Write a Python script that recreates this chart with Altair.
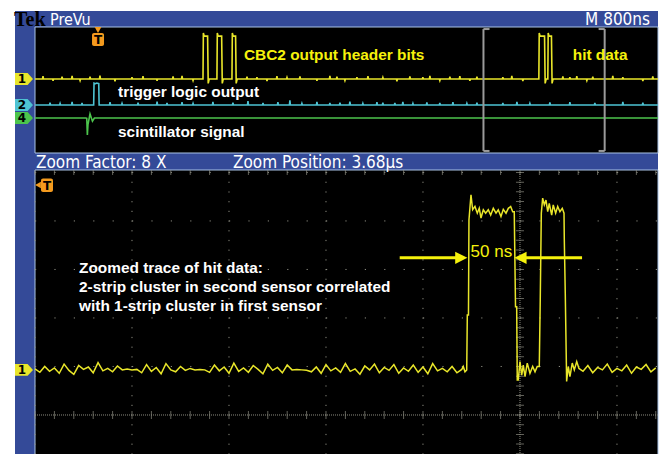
import altair as alt
import pandas as pd

# ---------------- texts ----------------
tek_label = "Tek"
mode_label = "PreVu"
timebase_label = "M 800ns"
zoom_factor_label = "Zoom Factor: 8 X"
zoom_position_label = "Zoom Position: 3.68\u00b5s"

# ---------------- acquisition settings ----------------
record_us = 8.0            # 10 div x 800 ns
zoom_factor = 8
zoom_position_us = 3.68

# ---------------- upper (PreVu) panel: time in us from trigger, level in div ----------------
ch1_base, ch1_high, ch1_peak, ch1_under = 0.70, 3.42, 3.62, 0.42
ch1_rise = [0.866, 0.981, 1.105, 3.637, 3.711]
ch1_fall = [0.907, 1.023, 1.138, 3.687, 3.744]
ch1_spike_t = [-0.454, -0.371, -0.297, -0.214, -0.148, -0.066, 0.016, 0.140, 0.280, 0.371,
               0.487, 0.619, 0.693, 0.784, 1.229, 1.311, 1.394, 1.476, 1.559, 1.666,
               1.806, 1.913, 1.971, 2.037, 2.136, 2.227, 2.350, 2.466, 2.573, 2.680,
               2.738, 2.820, 2.903, 2.985, 3.068, 3.126, 3.340, 3.414, 3.505, 3.835,
               3.893, 3.950, 4.033, 4.082, 4.247, 4.330, 4.495, 4.577]
ch1_spike_h = [0.18, -0.12, 0.15, 0.20, -0.10, 0.14, 0.22, -0.15, 0.12, 0.18,
               -0.12, 0.16, 0.20, -0.10, 0.15, 0.12, -0.14, 0.18, 0.10, 0.16,
               -0.12, 0.20, 0.14, -0.10, 0.12, 0.18, 0.10, -0.15, 0.16, 0.12,
               0.20, -0.10, 0.14, 0.18, -0.12, 0.15, 0.12, 0.20, -0.14, 0.16,
               0.12, 0.18, -0.10, 0.15, 0.20, 0.12, -0.14, 0.16]

ch2_base = -0.95
ch2_pulse_t = [-0.036, -0.033, -0.020, -0.010, 0.006, 0.009]
ch2_pulse_v = [-0.95, 0.44, 0.40, 0.44, 0.40, -0.95]
ch2_spike_t = [-0.396, -0.313, -0.214, -0.132, 0.099, 0.198, 0.330, 0.487, 0.569, 0.693,
               0.784, 0.948, 1.113, 1.237, 1.361, 1.484, 1.583, 1.682, 1.806, 1.913,
               1.996, 2.078, 2.185, 2.301, 2.350, 2.449, 2.515, 2.598, 2.713, 2.820,
               2.928, 3.043, 3.126, 3.340, 3.456, 3.563, 3.728, 3.893, 4.099, 4.330, 4.495]
ch2_spike_h = [0.15, 0.10, 0.20, 0.12, 0.18, 0.10, 0.15, 0.22, 0.12, 0.18,
               0.10, 0.20, 0.14, 0.25, 0.12, 0.18, 0.30, 0.10, 0.20, 0.12,
               0.15, 0.22, 0.10, 0.18, 0.14, 0.12, 0.20, 0.10, 0.16, 0.12,
               0.18, 0.10, 0.14, 0.12, 0.20, 0.10, 0.16, 0.18, 0.12, 0.20, 0.14]

ch4_t = [-0.52, -0.100, -0.093, -0.088, -0.083, -0.066, -0.046, -0.030, 4.62]
ch4_v = [-1.78, -1.78, -1.80, -2.86, -2.20, -1.52, -1.98, -1.78, -1.78]

# ---------------- lower (zoom) panel: time in ns from trigger, level in div ----------------
low_left_t0, low_step = 3180, 5
low_left_v = [0.95, 0.88, 1.00, 0.90, 0.97, 0.86, 1.05, 0.92, 0.84, 1.02,
              0.94, 0.99, 0.87, 1.08, 0.91, 0.96, 0.89, 1.01, 0.93, 0.95,
              0.93, 0.94, 0.87, 1.04, 0.90, 0.98, 0.85, 1.06, 0.93, 0.89,
              1.00, 0.92, 0.96, 0.93, 0.94, 0.93, 0.88, 1.03, 0.91, 0.99,
              0.86, 1.07, 0.90, 0.97, 0.88, 1.02, 0.94, 0.85, 1.05, 0.92,
              0.98, 0.87, 1.03, 0.93, 0.94, 0.93, 0.92, 0.89, 0.99, 0.86,
              1.04, 0.91, 0.97, 0.88, 1.06, 0.90, 0.95, 0.84, 1.01, 0.93,
              1.05, 0.87, 0.98, 0.92, 1.04, 0.86, 0.97, 0.90, 1.03, 0.88,
              0.99, 0.85, 1.06, 0.91, 0.96, 0.89, 1.00, 0.87, 0.94]
low_pulse_t = [3621.5, 3623.3, 3625.1, 3625.7, 3626.9, 3627.4, 3629.5, 3631.2, 3633.6, 3636.0,
               3638.0, 3639.8, 3642.2, 3644.6, 3647.3, 3649.8, 3652.5, 3655.3, 3657.6, 3660.4,
               3662.8, 3665.6, 3668.0, 3670.4, 3672.5, 3674.1, 3675.4, 3676.6, 3677.2, 3678.2,
               3680.0, 3681.8, 3683.4, 3685.2, 3687.5, 3690.3, 3693.1, 3695.5, 3697.8, 3699.9,
               3700.9, 3702.0, 3703.4, 3705.1, 3706.8, 3708.6, 3710.2, 3712.7, 3714.3, 3716.8,
               3718.9, 3721.2, 3723.6, 3725.4, 3725.7, 3726.7, 3728.1, 3729.8, 3731.5, 3733.9,
               3736.0, 3738.5, 3740.8]
low_pulse_v = [1.00, 0.89, 0.93, 2.06, 2.06, 4.02, 4.54, 4.23, 4.30, 4.16,
               4.26, 4.06, 4.23, 4.16, 4.23, 4.12, 4.26, 4.16, 4.23, 4.09,
               4.24, 4.16, 4.26, 4.30, 4.19, 4.19, 2.23, 2.23, 0.72, 0.72,
               1.10, 0.82, 1.03, 0.79, 1.07, 0.86, 1.00, 0.89, 1.00, 1.00,
               2.37, 4.16, 4.47, 4.33, 4.43, 4.19, 4.36, 4.12, 4.33, 4.16,
               4.30, 4.19, 4.26, 4.16, 3.61, 2.51, 0.69, 1.00, 0.79, 1.07,
               0.93, 1.10, 0.96]
low_right_t0 = 3745
low_right_v = [0.90, 1.02, 0.87, 0.98, 0.93, 1.05, 0.88, 0.96, 0.91, 1.03,
               0.86, 0.99, 0.94, 1.04, 0.89, 0.97]
low_base = 0.93

# graticule of zoom panel
grid_major_ns = [3180, 3280, 3380, 3480, 3580, 3780]
grid_center_ns = 3680
grid_major_v = [1, 2, 3, 4, 5]
grid_minor_ns = [3180 + 20 * k for k in range(33)]
grid_minor_v = [round(0.2 * k, 2) for k in range(-4, 26)]

# annotations
upper_notes = [
    {"t": 1.204, "v": 2.22, "text": "CBC2 output header bits", "c": "#f6f20c"},
    {"t": 3.917, "v": 2.22, "text": "hit data", "c": "#f6f20c"},
    {"t": 0.165, "v": -0.13, "text": "trigger logic output", "c": "#ffffff"},
    {"t": 0.165, "v": -2.67, "text": "scintillator signal", "c": "#ffffff"},
]
lower_notes = [
    {"t": 3225.4, "v": 3.03, "text": "Zoomed trace of hit data:"},
    {"t": 3225.4, "v": 2.64, "text": "2-strip cluster in second sensor correlated"},
    {"t": 3225.4, "v": 2.25, "text": "with 1-strip cluster in first sensor"},
]
width_note = {"t": 3650.5, "v": 3.35, "text": "50 ns"}
arrow_v = 3.24
arrow_lines = [{"t": 3556.0, "t2": 3616.0}, {"t": 3684.0, "t2": 3744.0}]
arrow_heads = [{"t": 3619.5, "dir": "r"}, {"t": 3680.5, "dir": "l"}]

# ---------------- layout (chart pixel coordinates) ----------------
W, H = 651, 446
UX = dict(domain=[-0.52, 4.62], range=[27, 650])
UY = dict(domain=[-4, 4], range=[145, 19])
LX = dict(domain=[3180, 3822.3], range=[27, 650])
LY = dict(domain=[-0.804, 5.05], range=[446, 162])

BLUE = "#344a98"
EDGE = "#a9c3e6"
YEL = "#e9e62a"
CYAN = "#4ec3d3"
GREEN = "#4cc44c"
ORANGE = "#f39a1e"
GRID = "#8c8c80"
HDR_FONT = "DejaVu Sans Condensed, DejaVu Sans"
NOTE_FONT = "Liberation Sans, Arial"
NOTE_SIZE = 15.4


def sx(field, s, t="quantitative"):
    return alt.X(field, type=t, scale=alt.Scale(nice=False, zero=False, **s), axis=None)


def sy(field, s, t="quantitative"):
    return alt.Y(field, type=t, scale=alt.Scale(nice=False, zero=False, **s), axis=None)


def one():
    return alt.Data(values=[{"a": 1}])


def rect(x, x2, y, y2, **kw):
    return alt.Chart(one()).mark_rect(**kw).encode(
        x=alt.value(x), x2=alt.value(x2), y=alt.value(y), y2=alt.value(y2))


def label(text, x, y, **kw):
    return alt.Chart(one()).mark_text(text=text, **kw).encode(x=alt.value(x), y=alt.value(y))


# ---------------- build traces ----------------
def spiky(base, ts, hs, t0, t1, extra):
    pts = [(t0, base), (t1, base)]
    for t, h in zip(ts, hs):
        pts += [(t - 0.004, base), (t, base + h), (t + 0.004, base)]
    pts += extra
    pts.sort(key=lambda p: p[0])
    return pd.DataFrame({"t": [p[0] for p in pts], "v": [p[1] for p in pts],
                         "i": list(range(len(pts)))})


ch1_extra = []
for r, f in zip(ch1_rise, ch1_fall):
    ch1_extra += [(r, ch1_base), (r + 0.003, ch1_peak), (r + 0.010, ch1_high),
                  (f - 0.003, ch1_high), (f + 0.002, ch1_under), (f + 0.010, ch1_base)]
ch1_df = spiky(ch1_base, ch1_spike_t, ch1_spike_h, -0.52, 4.62, ch1_extra)
ch2_df = spiky(ch2_base, ch2_spike_t, ch2_spike_h, -0.52, 4.62,
               list(zip(ch2_pulse_t, ch2_pulse_v)))
ch4_df = pd.DataFrame({"t": ch4_t, "v": ch4_v, "i": list(range(len(ch4_t)))})

low_t = ([low_left_t0 + low_step * i for i in range(len(low_left_v))] + low_pulse_t
         + [low_right_t0 + low_step * i for i in range(len(low_right_v))])
low_v = low_left_v + low_pulse_v + low_right_v
low_df = pd.DataFrame({"t": low_t, "v": low_v, "i": list(range(len(low_t)))})

half = record_us / zoom_factor / 2
bl, br = zoom_position_us - half, zoom_position_us + half
btop, bbot, serif = 3.87, -3.87, 0.05
bracket_df = pd.DataFrame([
    {"t": bl, "t2": bl, "v": bbot, "v2": btop},
    {"t": br, "t2": br, "v": bbot, "v2": btop},
    {"t": bl, "t2": bl + serif, "v": btop, "v2": btop},
    {"t": bl, "t2": bl + serif, "v": bbot, "v2": bbot},
    {"t": br - serif, "t2": br, "v": btop, "v2": btop},
    {"t": br - serif, "t2": br, "v": bbot, "v2": bbot},
])

layers = []
# frame
layers.append(rect(7, 650, 3, H, color=BLUE))
layers.append(rect(27, 650, 19, 145, color="#000000", stroke=EDGE, strokeWidth=1))
layers.append(rect(27, 650, 162, H + 2, color="#000000", stroke=EDGE, strokeWidth=1))

# lower graticule
vdots = pd.DataFrame({"t": grid_major_ns})
layers.append(alt.Chart(vdots).mark_rule(color=GRID, strokeWidth=1, strokeDash=[1.2, 8.5]).encode(
    x=sx("t", LX), y=alt.value(164), y2=alt.value(H)))
hdots = pd.DataFrame({"v": grid_major_v})
layers.append(alt.Chart(hdots).mark_rule(color=GRID, strokeWidth=1, strokeDash=[1.2, 18.2]).encode(
    y=sy("v", LY), x=alt.value(27), x2=alt.value(650)))
layers.append(alt.Chart(pd.DataFrame({"v": [0]})).mark_rule(color=GRID, strokeWidth=1, strokeDash=[1, 1]).encode(
    y=sy("v", LY), x=alt.value(27), x2=alt.value(650)))
layers.append(alt.Chart(pd.DataFrame({"t": [grid_center_ns]})).mark_rule(color=GRID, strokeWidth=1, strokeDash=[1, 1]).encode(
    x=sx("t", LX), y=alt.value(164), y2=alt.value(H)))
layers.append(alt.Chart(pd.DataFrame({"t": grid_minor_ns, "v": [0] * len(grid_minor_ns)})).mark_tick(
    color=GRID, orient="vertical", size=8, thickness=1).encode(x=sx("t", LX), y=sy("v", LY)))
layers.append(alt.Chart(pd.DataFrame({"t": grid_minor_ns, "v": [5] * len(grid_minor_ns)})).mark_tick(
    color=GRID, orient="vertical", size=5, thickness=1).encode(x=sx("t", LX), y=sy("v", LY)))
layers.append(alt.Chart(pd.DataFrame({"v": grid_minor_v, "t": [grid_center_ns] * len(grid_minor_v)})).mark_tick(
    color=GRID, orient="horizontal", size=8, thickness=1).encode(x=sx("t", LX), y=sy("v", LY)))

# upper traces
for df, col in [(ch4_df, GREEN), (ch2_df, CYAN), (ch1_df, YEL)]:
    layers.append(alt.Chart(df).mark_line(color=col, strokeWidth=1.6, clip=True).encode(
        x=sx("t", UX), y=sy("v", UY), order=alt.Order("i", type="quantitative")))

# zoom bracket
layers.append(alt.Chart(bracket_df).mark_rule(color="#9a9a9a", strokeWidth=2).encode(
    x=sx("t", UX), x2="t2", y=sy("v", UY), y2="v2"))

# lower trace
layers.append(alt.Chart(low_df).mark_line(color=YEL, strokeWidth=1.5, clip=True).encode(
    x=sx("t", LX), y=sy("v", LY), order=alt.Order("i", type="quantitative")))

# annotations
layers.append(alt.Chart(pd.DataFrame(upper_notes)).mark_text(
    font=NOTE_FONT, fontSize=NOTE_SIZE, fontWeight="bold", align="left", baseline="middle").encode(
    x=sx("t", UX), y=sy("v", UY), text="text:N", color=alt.Color("c:N", scale=None)))
layers.append(alt.Chart(pd.DataFrame(lower_notes)).mark_text(
    font=NOTE_FONT, fontSize=NOTE_SIZE, fontWeight="bold", align="left", baseline="middle", color="white").encode(
    x=sx("t", LX), y=sy("v", LY), text="text:N"))
layers.append(alt.Chart(pd.DataFrame([width_note])).mark_text(
    font="Liberation Sans, Arial", fontSize=17, align="center", baseline="middle", color="#f6f20c").encode(
    x=sx("t", LX), y=sy("v", LY), text="text:N"))
arr = pd.DataFrame(arrow_lines)
arr["v"] = arrow_v
layers.append(alt.Chart(arr).mark_rule(color="#f6f20c", strokeWidth=3).encode(
    x=sx("t", LX), x2="t2", y=sy("v", LY)))
for h in arrow_heads:
    path = "M-1,-1L1,0L-1,1Z" if h["dir"] == "r" else "M1,-1L-1,0L1,1Z"
    layers.append(alt.Chart(pd.DataFrame([{"t": h["t"], "v": arrow_v}])).mark_point(
        shape=path, filled=True, size=150, color="#f6f20c", opacity=1).encode(
        x=sx("t", LX), y=sy("v", LY)))

# channel markers
PENT = "M-1,-0.66L0.4,-0.66L1,0L0.4,0.66L-1,0.66Z"
markers_up = pd.DataFrame([
    {"v": ch1_base, "d": "1", "c": YEL},
    {"v": ch2_base, "d": "2", "c": CYAN},
    {"v": ch4_v[0], "d": "4", "c": GREEN},
])
layers.append(alt.Chart(markers_up).mark_point(shape=PENT, filled=True, size=324, opacity=1).encode(
    x=alt.value(16), y=sy("v", UY), color=alt.Color("c:N", scale=None)))
layers.append(alt.Chart(markers_up).mark_text(font="DejaVu Sans", fontSize=12, fontWeight="bold",
                                               color="black", baseline="middle").encode(
    x=alt.value(14), y=sy("v", UY), text="d:N"))
marker_low = pd.DataFrame([{"v": low_base, "d": "1", "c": YEL}])
layers.append(alt.Chart(marker_low).mark_point(shape=PENT, filled=True, size=324, opacity=1).encode(
    x=alt.value(16), y=sy("v", LY), color=alt.Color("c:N", scale=None)))
layers.append(alt.Chart(marker_low).mark_text(font="DejaVu Sans", fontSize=12, fontWeight="bold",
                                               color="black", baseline="middle").encode(
    x=alt.value(14), y=sy("v", LY), text="d:N"))

# trigger markers
trig = pd.DataFrame([{"t": 0.0}])
layers.append(alt.Chart(trig).mark_point(shape="triangle-down", filled=True, size=45, color=ORANGE, opacity=1).encode(
    x=sx("t", UX), y=alt.value(22)))
layers.append(alt.Chart(trig).mark_rect(color=ORANGE, cornerRadius=2, width=12, height=13).encode(
    x=sx("t", UX), y=alt.value(31.5)))
layers.append(alt.Chart(trig).mark_text(text="T", font="DejaVu Sans", fontSize=12, fontWeight="bold",
                                        color="black", baseline="middle").encode(
    x=sx("t", UX), y=alt.value(32)))
layers.append(alt.Chart(one()).mark_point(shape="triangle-left", filled=True, size=45, color=ORANGE, opacity=1).encode(
    x=alt.value(30), y=alt.value(177)))
layers.append(alt.Chart(one()).mark_rect(color=ORANGE, cornerRadius=2).encode(
    x=alt.value(33), x2=alt.value(45), y=alt.value(170.5), y2=alt.value(184)))
layers.append(label("T", 39, 178, font="DejaVu Sans", fontSize=12, fontWeight="bold",
                    color="black", baseline="middle"))

# status texts
layers.append(label(tek_label, 6, 18, font="Liberation Serif", fontSize=20, fontWeight="bold",
                    color="black", align="left", baseline="alphabetic"))
layers.append(label(mode_label, 42, 17, font=HDR_FONT, fontSize=16, color="white",
                    align="left", baseline="alphabetic"))
layers.append(label(timebase_label, 642, 17, font=HDR_FONT, fontSize=17, color="white",
                    align="right", baseline="alphabetic"))
layers.append(label(zoom_factor_label, 28, 160, font=HDR_FONT, fontSize=17, color="white",
                    align="left", baseline="alphabetic"))
layers.append(label(zoom_position_label, 225, 160, font=HDR_FONT, fontSize=17, color="white",
                    align="left", baseline="alphabetic"))

chart = alt.layer(*layers).resolve_scale(x="independent", y="independent").properties(
    width=W, height=H, padding=0, autosize="none", background="white"
).configure_view(stroke=None)

chart.save("out.html", embed_options={"renderer": "svg", "actions": False})
